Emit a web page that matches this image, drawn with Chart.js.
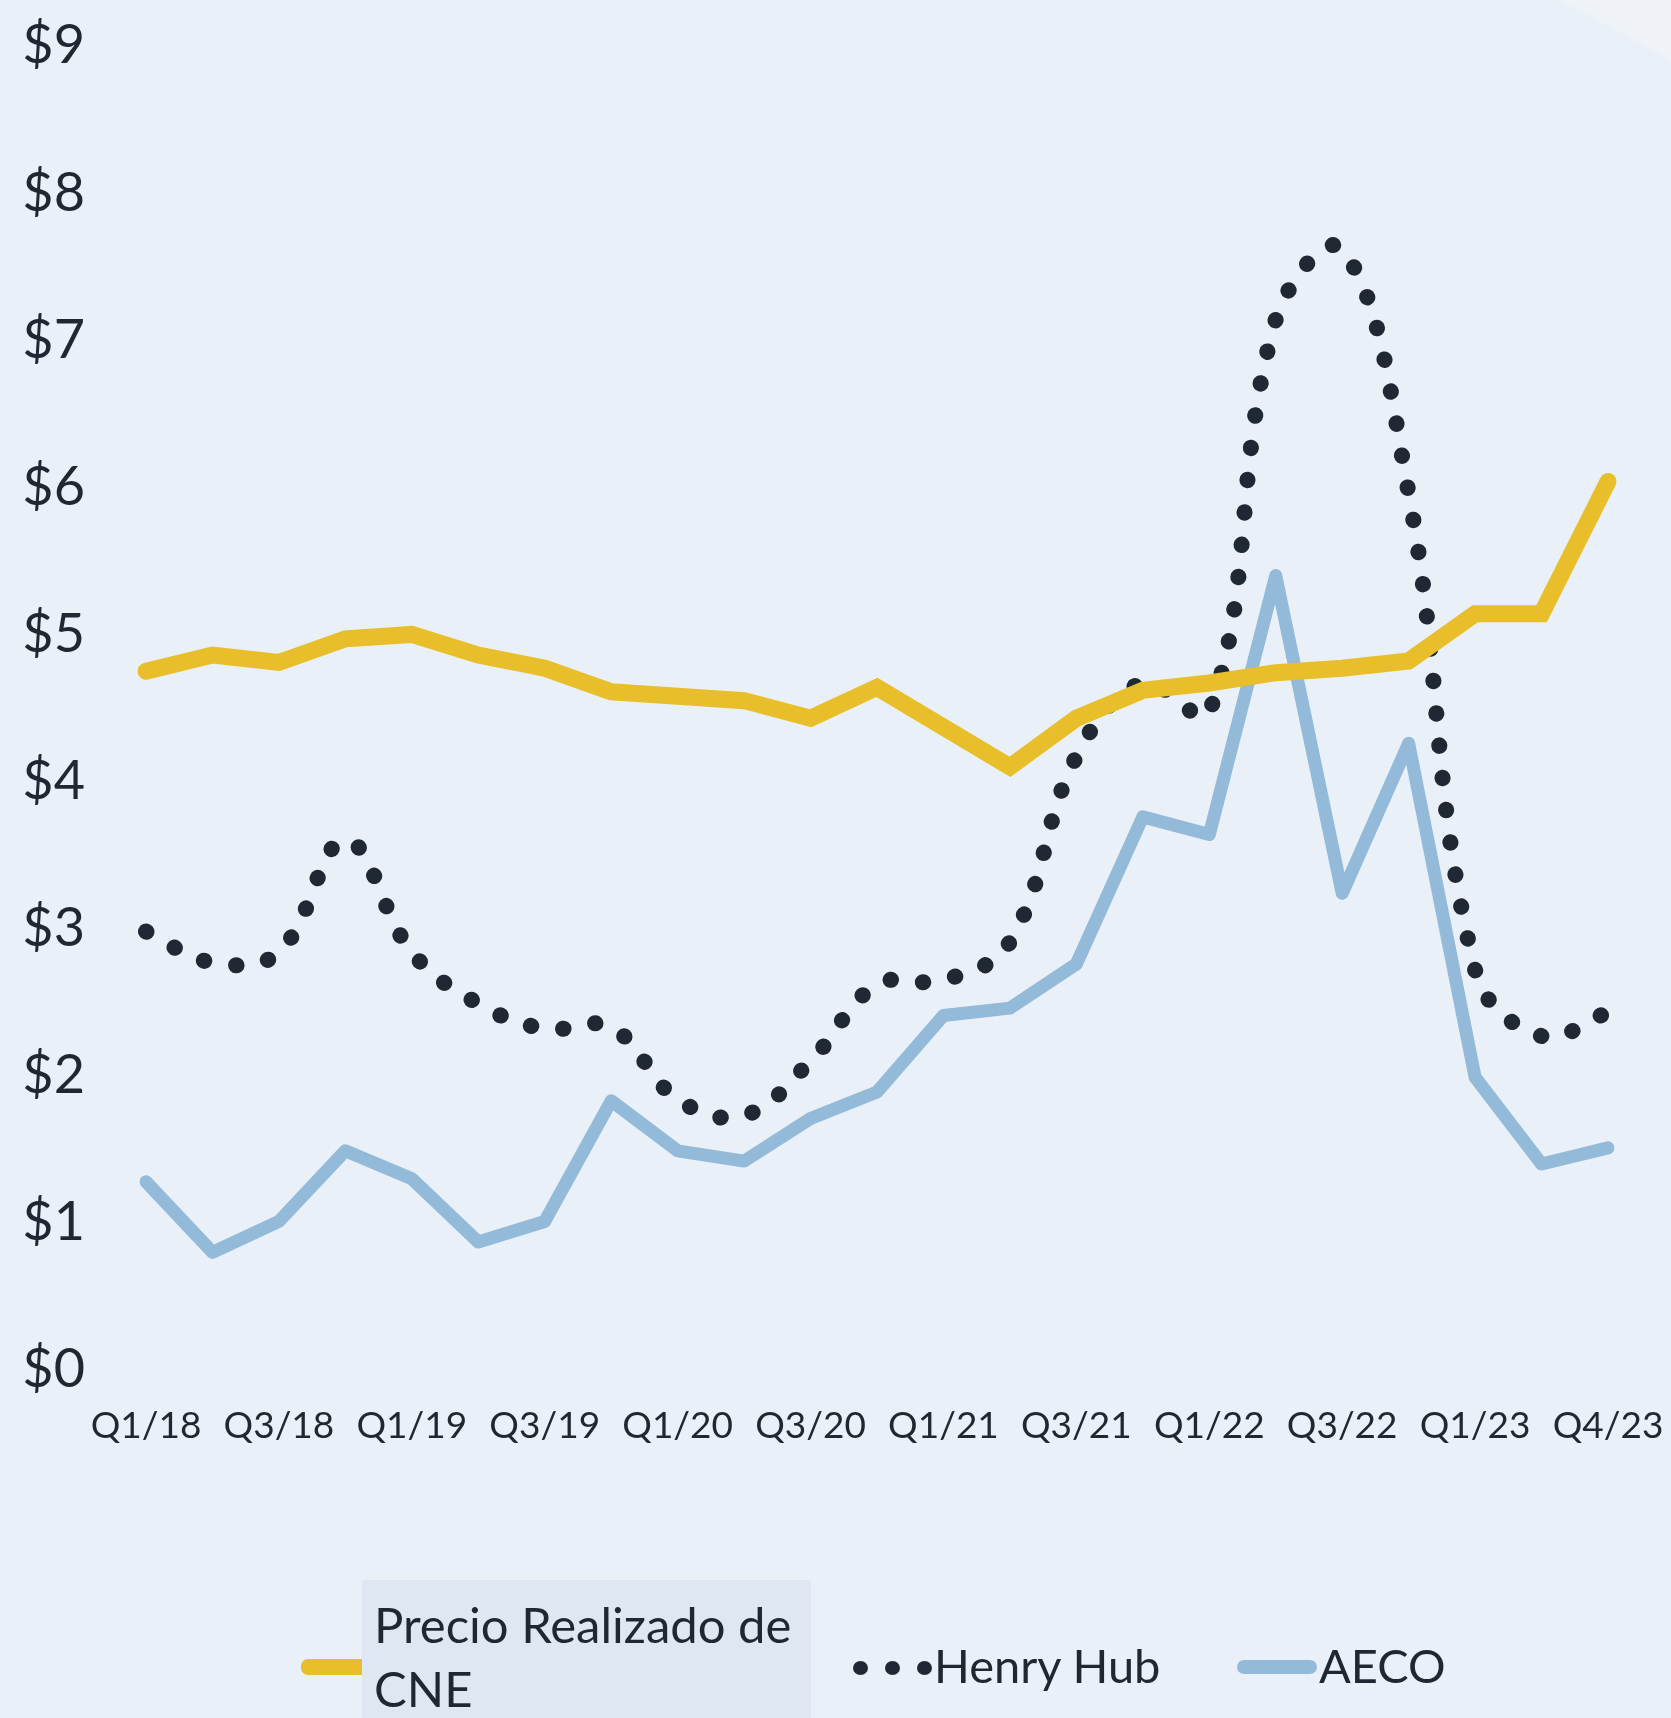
<!DOCTYPE html>
<html>
<head>
<meta charset="utf-8">
<script src="https://cdn.jsdelivr.net/npm/chart.js@4.4.1/dist/chart.umd.min.js"></script>
<style>
  html, body { margin: 0; padding: 0; }
  body {
    width: 1671px; height: 1718px; overflow: hidden; position: relative;
    background: #e9f0f7;
    font-family: Lato, "Open Sans", sans-serif; color: #1f2732;
  }
  .corner { position: absolute; left: 1560px; top: 0; width: 111px; height: 60px;
            background: #eff3f8; clip-path: polygon(0 0, 100% 0, 100% 100%); }
  #wrap { position: absolute; left: 0; top: 0; width: 1671px; height: 1470px; }
  .legend { position: absolute; left: 0; top: 0; width: 1671px; height: 1718px; pointer-events: none; }
  .bar { position: absolute; height: 14px; border-radius: 7px; }
  .dot { position: absolute; width: 15px; height: 14px; border-radius: 50%; background: #1f2833; }
  .txt { position: absolute; font-size: 47px; line-height: 64px; white-space: nowrap; }
  .box { position: absolute; left: 362px; top: 1580px; width: 449px; height: 138px; background: #dfe8f2; }
</style>
</head>
<body>
<div class="corner"></div>
<div id="wrap"><canvas id="priceChart"></canvas></div>

<div class="legend">
  <div class="bar" style="left:301px; top:1659px; width:70px; height:16px; background:#e8be2a;"></div>
  <div class="box"></div>
  <div class="txt" style="left:374px; top:1592px; font-size:49px;">Precio Realizado de<br>CNE</div>
  <div class="dot" style="left:853px; top:1661px;"></div>
  <div class="dot" style="left:885px; top:1661px;"></div>
  <div class="dot" style="left:917px; top:1661px;"></div>
  <div class="txt" style="left:934px; top:1633px;">Henry Hub</div>
  <div class="bar" style="left:1237px; top:1660px; width:80px; background:#94bad9;"></div>
  <div class="txt" style="left:1319px; top:1633px;">AECO</div>
</div>

<script>
// Quarters (Q3/23 is not in the source series, the last point is labelled Q4/23)
var quarters = ["Q1/18","Q2/18","Q3/18","Q4/18","Q1/19","Q2/19","Q3/19","Q4/19",
                "Q1/20","Q2/20","Q3/20","Q4/20","Q1/21","Q2/21","Q3/21","Q4/21",
                "Q1/22","Q2/22","Q3/22","Q4/22","Q1/23","Q2/23","Q4/23"];

// Precio Realizado de CNE ($/Mcf)
var cnePrice = [4.75, 4.86, 4.81, 4.97, 5.00, 4.86, 4.77, 4.61, 4.58, 4.55, 4.43, 4.64,
                4.37, 4.10, 4.43, 4.62, 4.67, 4.74, 4.77, 4.82, 5.14, 5.14, 6.04];

// Henry Hub
var henryHub = [2.98, 2.77, 2.84, 3.60, 2.84, 2.49, 2.32, 2.33, 1.84, 1.73, 2.10, 2.62,
                2.65, 2.91, 4.17, 4.67, 4.47, 7.14, 7.62, 5.96, 2.72, 2.27, 2.43];

// AECO
var aeco = [1.28, 0.80, 1.01, 1.49, 1.30, 0.87, 1.01, 1.83, 1.49, 1.42, 1.71, 1.89,
            2.41, 2.46, 2.76, 3.76, 3.64, 5.40, 3.24, 4.26, 1.99, 1.40, 1.51];

var yTicks = [0, 1, 2, 3, 4, 5, 6, 7, 8, 9];

var textColor = "#1f2732";
var ctx = document.getElementById("priceChart");

new Chart(ctx, {
    type: "line",
    data: {
        labels: quarters,
        datasets: [
            {
                label: "AECO",
                data: aeco,
                borderColor: "#94bad9",
                borderWidth: 13,
                borderJoinStyle: "round",
                borderCapStyle: "round",
                pointRadius: 0,
                tension: 0,
                order: 3
            },
            {
                label: "Henry Hub",
                data: henryHub,
                borderColor: "#1f2833",
                borderWidth: 16,
                borderDash: [0.5, 32],
                borderCapStyle: "round",
                pointRadius: 0,
                tension: 0.4,
                order: 2
            },
            {
                label: "Precio Realizado de CNE",
                data: cnePrice,
                borderColor: "#e8be2a",
                borderWidth: 17,
                borderJoinStyle: "miter",
                borderCapStyle: "round",
                pointRadius: 0,
                tension: 0,
                order: 1
            }
        ]
    },
    options: {
        responsive: true,
        maintainAspectRatio: false,
        animation: false,
        layout: { padding: { left: 0, right: 63, top: 46, bottom: 0 } },
        scales: {
            x: {
                grid: { display: false, drawTicks: false },
                border: { display: false },
                afterFit: function (scale) {
                    scale.height = 100;
                    scale.paddingLeft = 0;
                    scale.paddingRight = 0;
                },
                ticks: {
                    autoSkip: false,
                    maxRotation: 0,
                    padding: 34,
                    color: textColor,
                    font: { family: "Lato", size: 37 },
                    callback: function (val, i) { return i % 2 === 0 ? quarters[i] : ""; }
                }
            },
            y: {
                min: 0,
                max: 9,
                afterFit: function (scale) {
                    scale.width = 146;
                    scale.paddingTop = 0;
                    scale.paddingBottom = 0;
                },
                afterBuildTicks: function (scale) { scale.ticks = yTicks.map(v => ({ value: v })); },
                grid: { display: false, drawTicks: false },
                border: { display: false },
                ticks: {
                    padding: 61,
                    color: textColor,
                    font: { family: "Lato", size: 54 },
                    callback: function (v) { return "$" + v; }
                }
            }
        },
        plugins: {
            legend: { display: false },
            tooltip: { enabled: false }
        }
    }
});
</script>
</body>
</html>
